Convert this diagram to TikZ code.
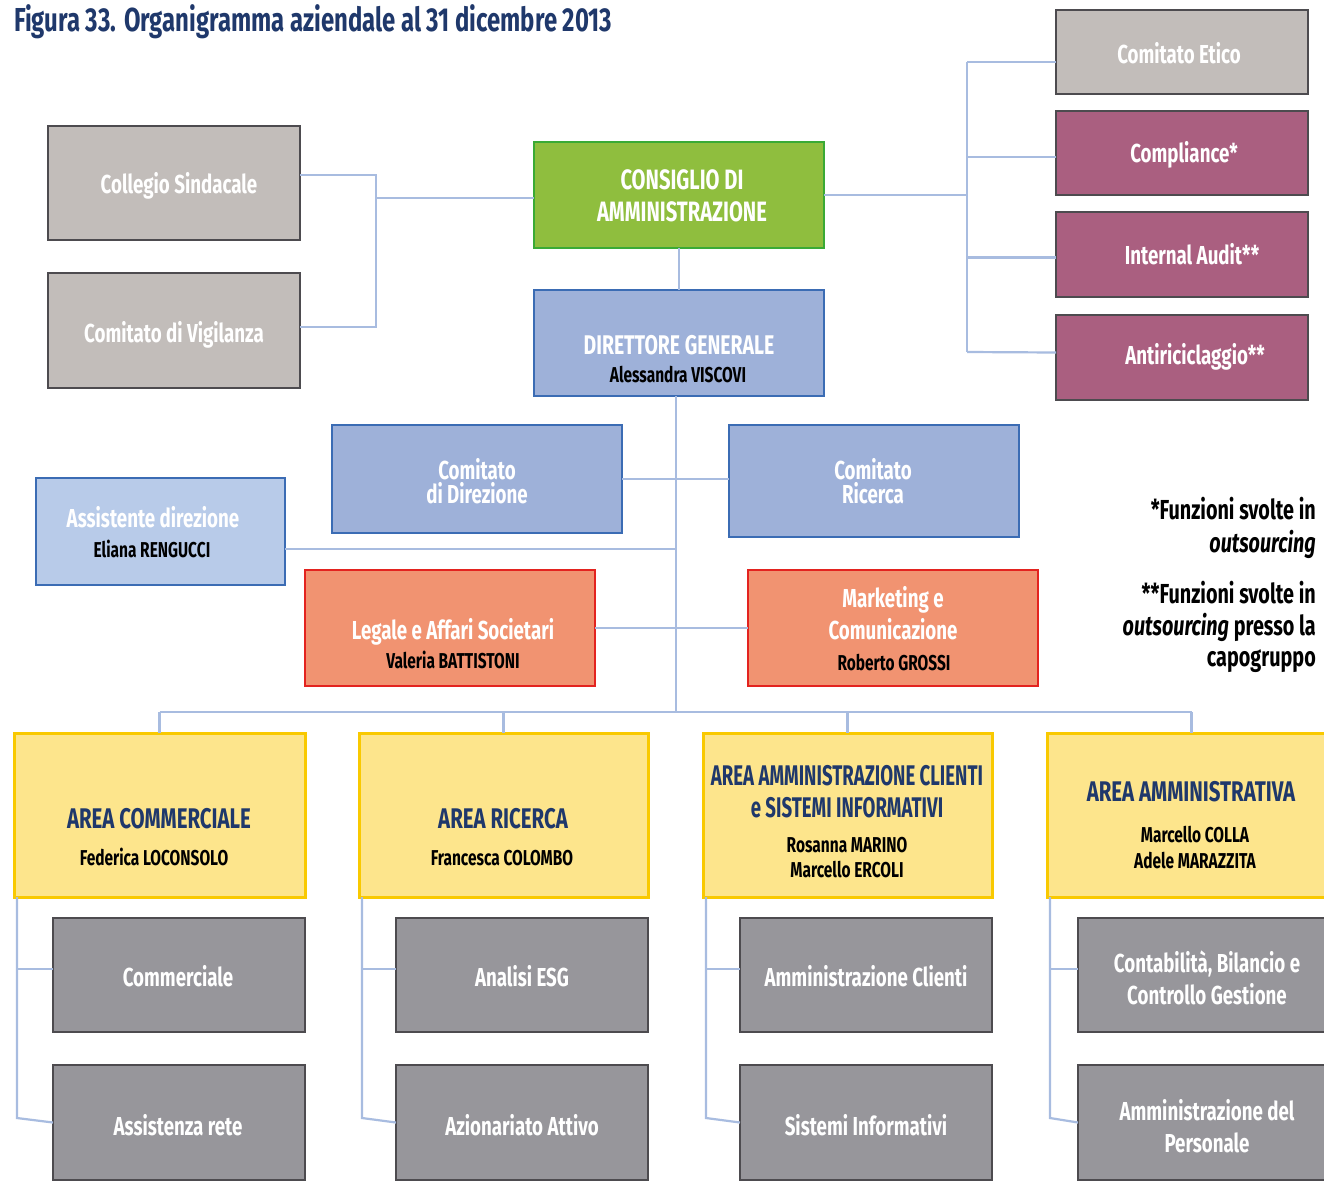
\documentclass[tikz,border=0pt]{standalone}
\usepackage{fontspec}
\setmainfont{Fira Sans}[FakeStretch=0.72]
\usetikzlibrary{calc}
\definecolor{navy}{HTML}{1F386B}
\definecolor{beige}{HTML}{C2BDBA}
\definecolor{dkgrey}{HTML}{4D4B4F}
\definecolor{plum}{HTML}{AA5F80}
\definecolor{grfill}{HTML}{8FBE3E}
\definecolor{grline}{HTML}{3AAA35}
\definecolor{blfill}{HTML}{9EB1D9}
\definecolor{blline}{HTML}{3B6CB4}
\definecolor{ltblue}{HTML}{B8CBE9}
\definecolor{salmon}{HTML}{F19371}
\definecolor{redline}{HTML}{E3231F}
\definecolor{yefill}{HTML}{FDE58C}
\definecolor{yeline}{HTML}{F9C900}
\definecolor{gyfill}{HTML}{97969B}
\definecolor{conn}{HTML}{A8BCE0}
\newcommand{\fT}{\fontsize{26}{31}\selectfont\bfseries}
\newcommand{\fN}{\fontsize{21.5}{24}\selectfont\bfseries}
\newcommand{\fA}{\fontsize{28.4}{31}\selectfont\bfseries}
\begin{document}
\begin{tikzpicture}[x=1pt,y=-1pt,
  box/.style={rectangle, draw, line width=2.4pt, inner sep=0pt, outer sep=0pt},
  bgbox/.style={box, fill=beige, draw=dkgrey},
  plbox/.style={box, fill=plum, draw=dkgrey},
  gnbox/.style={box, fill=grfill, draw=grline},
  blbox/.style={box, fill=blfill, draw=blline},
  lbbox/.style={box, fill=ltblue, draw=blline},
  sabox/.style={box, fill=salmon, draw=redline},
  yebox/.style={box, fill=yefill, draw=yeline, line width=3pt},
  gybox/.style={box, fill=gyfill, draw=dkgrey},
  wt/.style={anchor=base, inner sep=0pt, text=white, font=\fT},
  wc/.style={wt, font=\fontsize{28}{31}\selectfont\bfseries},
  nm/.style={anchor=base, inner sep=0pt, text=black, font=\fN},
  ar/.style={anchor=base, inner sep=0pt, text=navy, font=\fA},
  nt/.style={anchor=base east, inner sep=0pt, text=black, font=\fontsize{27.5}{33}\selectfont\bfseries},
  cn/.style={draw=conn, line width=2.2pt}
]
\useasboundingbox (0,0) rectangle (1324,1181);
\fill[white] (0,0) rectangle (1324,1181);

% title
\node[anchor=base west, inner sep=0pt, text=navy, font=\fontsize{33.2}{36}\selectfont\bfseries] (title) at (14,31) {Figura 33. Organigramma aziendale al 31 dicembre 2013};

% boxes
\node[bgbox, minimum width=252pt, minimum height=114pt] (coll) at (174,183) {};
\node[bgbox, minimum width=252pt, minimum height=115pt] (vig) at (174,330.5) {};
\node[gnbox, minimum width=290pt, minimum height=106pt] (cda) at (679,195) {};
\node[blbox, minimum width=290pt, minimum height=106pt] (dg) at (679,343) {};
\node[bgbox, minimum width=252pt, minimum height=84pt] (etico) at (1182,52) {};
\node[plbox, minimum width=252pt, minimum height=84pt] (compl) at (1182,153) {};
\node[plbox, minimum width=252pt, minimum height=85pt] (audit) at (1182,254.5) {};
\node[plbox, minimum width=252pt, minimum height=85pt] (anti) at (1182,357.5) {};
\node[blbox, minimum width=290pt, minimum height=108pt] (cdir) at (477,479) {};
\node[blbox, minimum width=290pt, minimum height=112pt] (cric) at (874,481) {};
\node[lbbox, minimum width=249pt, minimum height=107pt] (assist) at (160.5,531.5) {};
\node[sabox, minimum width=290pt, minimum height=116pt] (legale) at (450,628) {};
\node[sabox, minimum width=290pt, minimum height=116pt] (mkt) at (893,628) {};
\node[yebox, minimum width=291pt, minimum height=164pt] (acom) at (159.5,815) {};
\node[yebox, minimum width=289pt, minimum height=164pt] (aric) at (503.5,815) {};
\node[yebox, minimum width=289pt, minimum height=164pt] (aamm) at (847.5,815) {};
\node[yebox, minimum width=289pt, minimum height=164pt] (aadm) at (1191.5,815) {};
\node[gybox, minimum width=252pt, minimum height=114pt] (g11) at (179,975) {};
\node[gybox, minimum width=252pt, minimum height=115pt] (g12) at (179,1122.5) {};
\node[gybox, minimum width=252pt, minimum height=114pt] (g21) at (522,975) {};
\node[gybox, minimum width=252pt, minimum height=115pt] (g22) at (522,1122.5) {};
\node[gybox, minimum width=252pt, minimum height=114pt] (g31) at (866,975) {};
\node[gybox, minimum width=252pt, minimum height=115pt] (g32) at (866,1122.5) {};
\node[gybox, minimum width=252pt, minimum height=114pt] (g41) at (1204,975) {};
\node[gybox, minimum width=252pt, minimum height=115pt] (g42) at (1204,1122.5) {};

% connector junctions
\coordinate (lb1) at (376,175);
\coordinate (lb2) at (376,327);
\coordinate (lb3) at (376,198);
\coordinate (rt) at (967,62);
\coordinate (rb) at (967,352);
\coordinate (aj) at (676,549);
\coordinate (bus) at (676,712);
\coordinate (s1) at (17,1118);
\coordinate (s2) at (362,1118);
\coordinate (s3) at (706,1118);
\coordinate (s4) at (1050,1118);

% connectors
\draw[cn] (coll.east |- lb1) -- (lb1) -- (lb2) -- (vig.east |- lb2);
\draw[cn] (lb3) -- (cda.west |- lb3);
\draw[cn] (cda.east) -- (cda.east -| rt);
\draw[cn] (rt) -- (rb);
\draw[cn] ([yshift=-10pt]etico.west) -- (rt);
\draw[cn] ([yshift=-4pt]compl.west) -- ([yshift=-4pt]compl.west -| rt);
\draw[cn] ([yshift=-3pt]audit.west) -- ([yshift=-3pt]audit.west -| rt);
\draw[cn] ([yshift=5pt]anti.west) -- (rb);
\draw[cn] (cda.south) -- (dg.north);
\draw[cn] ([xshift=-3pt]dg.south) -- (bus);
\draw[cn] (cdir.east) -- (cric.west |- cdir.east);
\draw[cn] ([yshift=-17.5pt]assist.east) -- (aj);
\draw[cn] (legale.east) -- (mkt.west);
\draw[cn] (acom.north |- bus) -- (aadm.north |- bus);
\draw[cn] (acom.north |- bus) -- (acom.north);
\draw[cn] (aric.north |- bus) -- (aric.north);
\draw[cn] (aamm.north |- bus) -- (aamm.north);
\draw[cn] (aadm.north |- bus) -- (aadm.north);
\draw[cn] (acom.south -| s1) -- (s1) -- (g12.west);
\draw[cn] (aric.south -| s2) -- (s2) -- (g22.west);
\draw[cn] (aamm.south -| s3) -- (s3) -- (g32.west);
\draw[cn] (aadm.south -| s4) -- (s4) -- (g42.west);
\draw[cn] ([yshift=6pt]g11.west) -- ([yshift=6pt]g11.west -| s1);
\draw[cn] ([yshift=6pt]g21.west) -- ([yshift=6pt]g21.west -| s2);
\draw[cn] ([yshift=6pt]g31.west) -- ([yshift=6pt]g31.west -| s3);
\draw[cn] ([yshift=6pt]g41.west) -- ([yshift=6pt]g41.west -| s4);

% texts
\node[wt] (coll-t) at (179,193) {Collegio Sindacale};
\node[wt] (vig-t) at (174,342) {Comitato di Vigilanza};
\node[wc] (cda-t1) at (682,189) {CONSIGLIO DI};
\node[wc] (cda-t2) at (682,221) {AMMINISTRAZIONE};
\node[wt, font=\fontsize{27}{31}\selectfont\bfseries] (dg-t) at (679,354) {DIRETTORE GENERALE};
\node[nm] (dg-n) at (678,382) {Alessandra VISCOVI};
\node[wt] (etico-t) at (1179,63) {Comitato Etico};
\node[wt] (compl-t) at (1184,162) {Compliance*};
\node[wt] (audit-t) at (1192,264) {Internal Audit**};
\node[wt] (anti-t) at (1195,364) {Antiriciclaggio**};
\node[wt] (cdir-t1) at (477,479) {Comitato};
\node[wt] (cdir-t2) at (477,503) {di Direzione};
\node[wt] (cric-t1) at (873,479) {Comitato};
\node[wt] (cric-t2) at (873,503) {Ricerca};
\node[wt] (assist-t) at (153,527) {Assistente direzione};
\node[nm] (assist-n) at (152,557) {Eliana RENGUCCI};
\node[wt] (legale-t) at (453,639) {Legale e Affari Societari};
\node[nm] (legale-n) at (453,668) {Valeria BATTISTONI};
\node[wt] (mkt-t1) at (893,607) {Marketing e};
\node[wt] (mkt-t2) at (893,639) {Comunicazione};
\node[nm] (mkt-n) at (894,670) {Roberto GROSSI};

\node[ar] (acom-t) at (159,828) {AREA COMMERCIALE};
\node[nm] (acom-n) at (154,865) {Federica LOCONSOLO};
\node[ar] (aric-t) at (503,828) {AREA RICERCA};
\node[nm] (aric-n) at (502,865) {Francesca COLOMBO};
\node[ar] (aamm-t1) at (847,785) {\scalebox{0.91}[1]{AREA AMMINISTRAZIONE CLIENTI}};
\node[ar] (aamm-t2) at (847,817) {\scalebox{0.91}[1]{e SISTEMI INFORMATIVI}};
\node[nm] (aamm-n1) at (847,852) {Rosanna MARINO};
\node[nm] (aamm-n2) at (847,877) {Marcello ERCOLI};
\node[ar] (aadm-t) at (1191,801) {AREA AMMINISTRATIVA};
\node[nm] (aadm-n1) at (1195,842) {Marcello COLLA};
\node[nm] (aadm-n2) at (1195,868) {Adele MARAZZITA};

\node[wt] (g11-t) at (178,986) {Commerciale};
\node[wt] (g12-t) at (178,1135) {Assistenza rete};
\node[wt] (g21-t) at (522,986) {Analisi ESG};
\node[wt] (g22-t) at (522,1135) {Azionariato Attivo};
\node[wt] (g31-t) at (866,986) {Amministrazione Clienti};
\node[wt] (g32-t) at (866,1135) {Sistemi Informativi};
\node[wt] (g41-t1) at (1207,972) {Contabilità, Bilancio e};
\node[wt] (g41-t2) at (1207,1004) {Controllo Gestione};
\node[wt] (g42-t1) at (1207,1120) {Amministrazione del};
\node[wt] (g42-t2) at (1207,1152) {Personale};

% notes
\node[nt] (n1) at (1316,519) {*Funzioni svolte in};
\node[nt] (n2) at (1316,552) {\textit{outsourcing}};
\node[nt] (n3) at (1316,603) {**Funzioni svolte in};
\node[nt] (n4) at (1316,635) {\textit{outsourcing} presso la};
\node[nt] (n5) at (1316,666) {capogruppo};
\end{tikzpicture}
\end{document}
